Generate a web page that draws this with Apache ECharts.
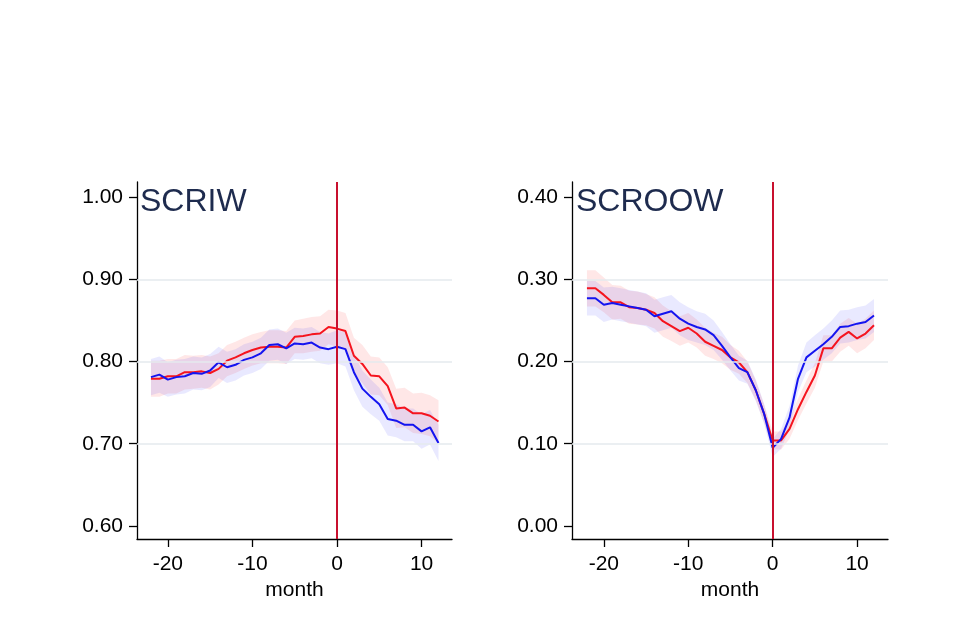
<!DOCTYPE html>
<html>
<head>
<meta charset="utf-8">
<script src="https://cdn.jsdelivr.net/npm/echarts@6/dist/echarts.min.js"></script>
<style>
html,body{margin:0;padding:0;background:#fff;}
#chart{width:960px;height:640px;}
</style>
</head>
<body>
<div id="chart"></div>
<script>
const months = [-22,-21,-20,-19,-18,-17,-16,-15,-14,-13,-12,-11,-10,-9,-8,-7,-6,-5,-4,-3,-2,-1,0,1,2,3,4,5,6,7,8,9,10,11,12];
const panelTitles = ['SCRIW', 'SCROOW'];
const xTicks = [-20, -10, 0, 10];
const scriwTicks = [0.6, 0.7, 0.8, 0.9, 1.0];
const scriwGrid = [0.7, 0.8, 0.9];
const scroowTicks = [0.0, 0.1, 0.2, 0.3, 0.4];
const scroowGrid = [0.1, 0.2, 0.3];
const eventMonth = 0;

const scriwRed = [0.779,0.779,0.782,0.782,0.787,0.787,0.788,0.786,0.791,0.801,0.805,0.810,0.814,0.817,0.818,0.818,0.817,0.830,0.831,0.833,0.834,0.842,0.840,0.837,0.807,0.797,0.783,0.782,0.770,0.743,0.744,0.737,0.737,0.734,0.727];
const scriwBlue = [0.781,0.784,0.778,0.781,0.782,0.786,0.785,0.789,0.799,0.793,0.796,0.802,0.805,0.810,0.820,0.821,0.816,0.822,0.821,0.823,0.817,0.815,0.818,0.815,0.787,0.767,0.757,0.748,0.730,0.728,0.723,0.723,0.715,0.720,0.701];
const scriwRedCI = [0.022,0.022,0.021,0.021,0.021,0.020,0.020,0.020,0.019,0.019,0.019,0.019,0.019,0.019,0.020,0.020,0.020,0.020,0.021,0.021,0.021,0.021,0.022,0.022,0.022,0.023,0.023,0.023,0.023,0.024,0.024,0.024,0.025,0.025,0.026];
const scriwBlueCI = [0.022,0.022,0.021,0.021,0.021,0.020,0.020,0.020,0.019,0.019,0.019,0.019,0.019,0.019,0.019,0.019,0.019,0.019,0.019,0.019,0.019,0.019,0.020,0.021,0.022,0.022,0.021,0.020,0.020,0.020,0.020,0.020,0.021,0.021,0.022];

const scroowRed = [0.289,0.289,0.281,0.272,0.272,0.266,0.265,0.263,0.259,0.249,0.243,0.237,0.241,0.234,0.224,0.219,0.214,0.205,0.199,0.187,0.165,0.136,0.104,0.104,0.118,0.142,0.163,0.183,0.216,0.216,0.229,0.236,0.228,0.234,0.244];
const scroowBlue = [0.277,0.277,0.269,0.271,0.269,0.267,0.265,0.263,0.255,0.258,0.261,0.252,0.246,0.242,0.239,0.232,0.219,0.205,0.192,0.187,0.165,0.136,0.095,0.106,0.132,0.179,0.205,0.213,0.221,0.230,0.242,0.243,0.246,0.248,0.256];
const scroowRedCI = [0.022,0.022,0.021,0.021,0.020,0.020,0.020,0.019,0.019,0.019,0.018,0.018,0.018,0.017,0.017,0.016,0.016,0.015,0.014,0.013,0.012,0.011,0.011,0.011,0.012,0.013,0.014,0.015,0.016,0.016,0.017,0.017,0.018,0.018,0.018];
const scroowBlueCI = [0.021,0.021,0.021,0.020,0.020,0.020,0.020,0.020,0.020,0.020,0.020,0.020,0.020,0.019,0.019,0.018,0.017,0.016,0.015,0.014,0.013,0.012,0.011,0.012,0.014,0.016,0.018,0.019,0.019,0.020,0.020,0.020,0.020,0.020,0.020];

const FONT = 'Liberation Sans, Arial, sans-serif';
const RED = '#f5141e';
const BLUE = '#1414f0';
const RED_BAND = 'rgba(255,40,40,0.11)';
const BLUE_BAND = 'rgba(40,40,255,0.10)';
const VLINE = '#c8102e';
const GRIDLINE = '#e4eaee';

function xAxisFor(i, min, max) {
  return {
    type: 'value', gridIndex: i, min: min, max: max,
    name: 'month', nameLocation: 'middle', nameGap: 38,
    nameTextStyle: { color: '#000', fontSize: 21, fontFamily: FONT },
    axisLine: { show: true, onZero: false, lineStyle: { color: '#000', width: 1.3 } },
    axisTick: { show: true, customValues: xTicks, length: 8, lineStyle: { color: '#000', width: 1.3 } },
    axisLabel: { show: true, customValues: xTicks, margin: 15, color: '#000', fontSize: 21, fontFamily: FONT,
      formatter: v => String(Math.round(v)) },
    splitLine: { show: false }
  };
}
function yAxisFor(i, min, max, ticks) {
  return {
    type: 'value', gridIndex: i, min: min, max: max,
    axisLine: { show: true, onZero: false, lineStyle: { color: '#000', width: 1.3 } },
    axisTick: { show: true, customValues: ticks, length: 8, lineStyle: { color: '#000', width: 1.3 } },
    axisLabel: { show: true, customValues: ticks, margin: 14, color: '#000', fontSize: 21, fontFamily: FONT,
      formatter: v => v.toFixed(2) },
    splitLine: { show: false }
  };
}
function bandSeries(i, vals, ci, color) {
  const data = months.map((m, k) => [m, vals[k] - ci[k], vals[k] + ci[k]]);
  return {
    type: 'custom', xAxisIndex: i, yAxisIndex: i, silent: true, z: 2,
    encode: { x: 0, y: [1, 2] },
    data: data,
    renderItem: function (params, api) {
      if (params.dataIndex !== 0) return null;
      const upper = data.map(d => api.coord([d[0], d[2]]));
      const lower = data.slice().reverse().map(d => api.coord([d[0], d[1]]));
      return { type: 'polygon', shape: { points: upper.concat(lower) }, style: { fill: color, stroke: null } };
    }
  };
}
function panelSeries(i, red, blue, redCI, blueCI, gridVals) {
  const ax = { xAxisIndex: i, yAxisIndex: i };
  const s = [];
  s.push(Object.assign({
    type: 'line', data: [], silent: true, z: 1,
    markLine: { silent: true, symbol: 'none', label: { show: false }, animation: false,
      lineStyle: { color: GRIDLINE, width: 1.5, type: 'solid' },
      data: gridVals.map(v => ({ yAxis: v })) }
  }, ax));
  s.push(bandSeries(i, red, redCI, RED_BAND));
  s.push(bandSeries(i, blue, blueCI, BLUE_BAND));
  s.push(Object.assign({ type: 'line', symbol: 'none', z: 3,
    lineStyle: { color: RED, width: 2 }, data: months.map((m, k) => [m, red[k]]) }, ax));
  s.push(Object.assign({ type: 'line', symbol: 'none', z: 4,
    lineStyle: { color: BLUE, width: 2 }, data: months.map((m, k) => [m, blue[k]]) }, ax));
  s.push(Object.assign({
    type: 'line', data: [], silent: true, z: 5,
    markLine: { silent: true, symbol: 'none', label: { show: false }, animation: false,
      lineStyle: { color: VLINE, width: 2, type: 'solid' },
      data: [{ xAxis: eventMonth }] }
  }, ax));
  return s;
}

const chart = echarts.init(document.getElementById('chart'), null, { renderer: 'canvas' });
const option = {
  animation: false,
  backgroundColor: '#fff',
  grid: [
    { left: 137, top: 182, width: 315, height: 357 },
    { left: 572, top: 182, width: 316, height: 357 }
  ],
  xAxis: [ xAxisFor(0, -23.65, 13.6), xAxisFor(1, -23.77, 13.66) ],
  yAxis: [ yAxisFor(0, 0.58419, 1.01824, scriwTicks), yAxisFor(1, -0.01581, 0.41824, scroowTicks) ],
  graphic: [
    { type: 'text', left: 140, top: 186, z: 10,
      style: { text: panelTitles[0], fill: '#1e2b4e', font: '32px ' + FONT } },
    { type: 'text', left: 576, top: 186, z: 10,
      style: { text: panelTitles[1], fill: '#1e2b4e', font: '32px ' + FONT } }
  ],
  series: [].concat(
    panelSeries(0, scriwRed, scriwBlue, scriwRedCI, scriwBlueCI, scriwGrid),
    panelSeries(1, scroowRed, scroowBlue, scroowRedCI, scroowBlueCI, scroowGrid)
  )
};
chart.setOption(option);
</script>
</body>
</html>
